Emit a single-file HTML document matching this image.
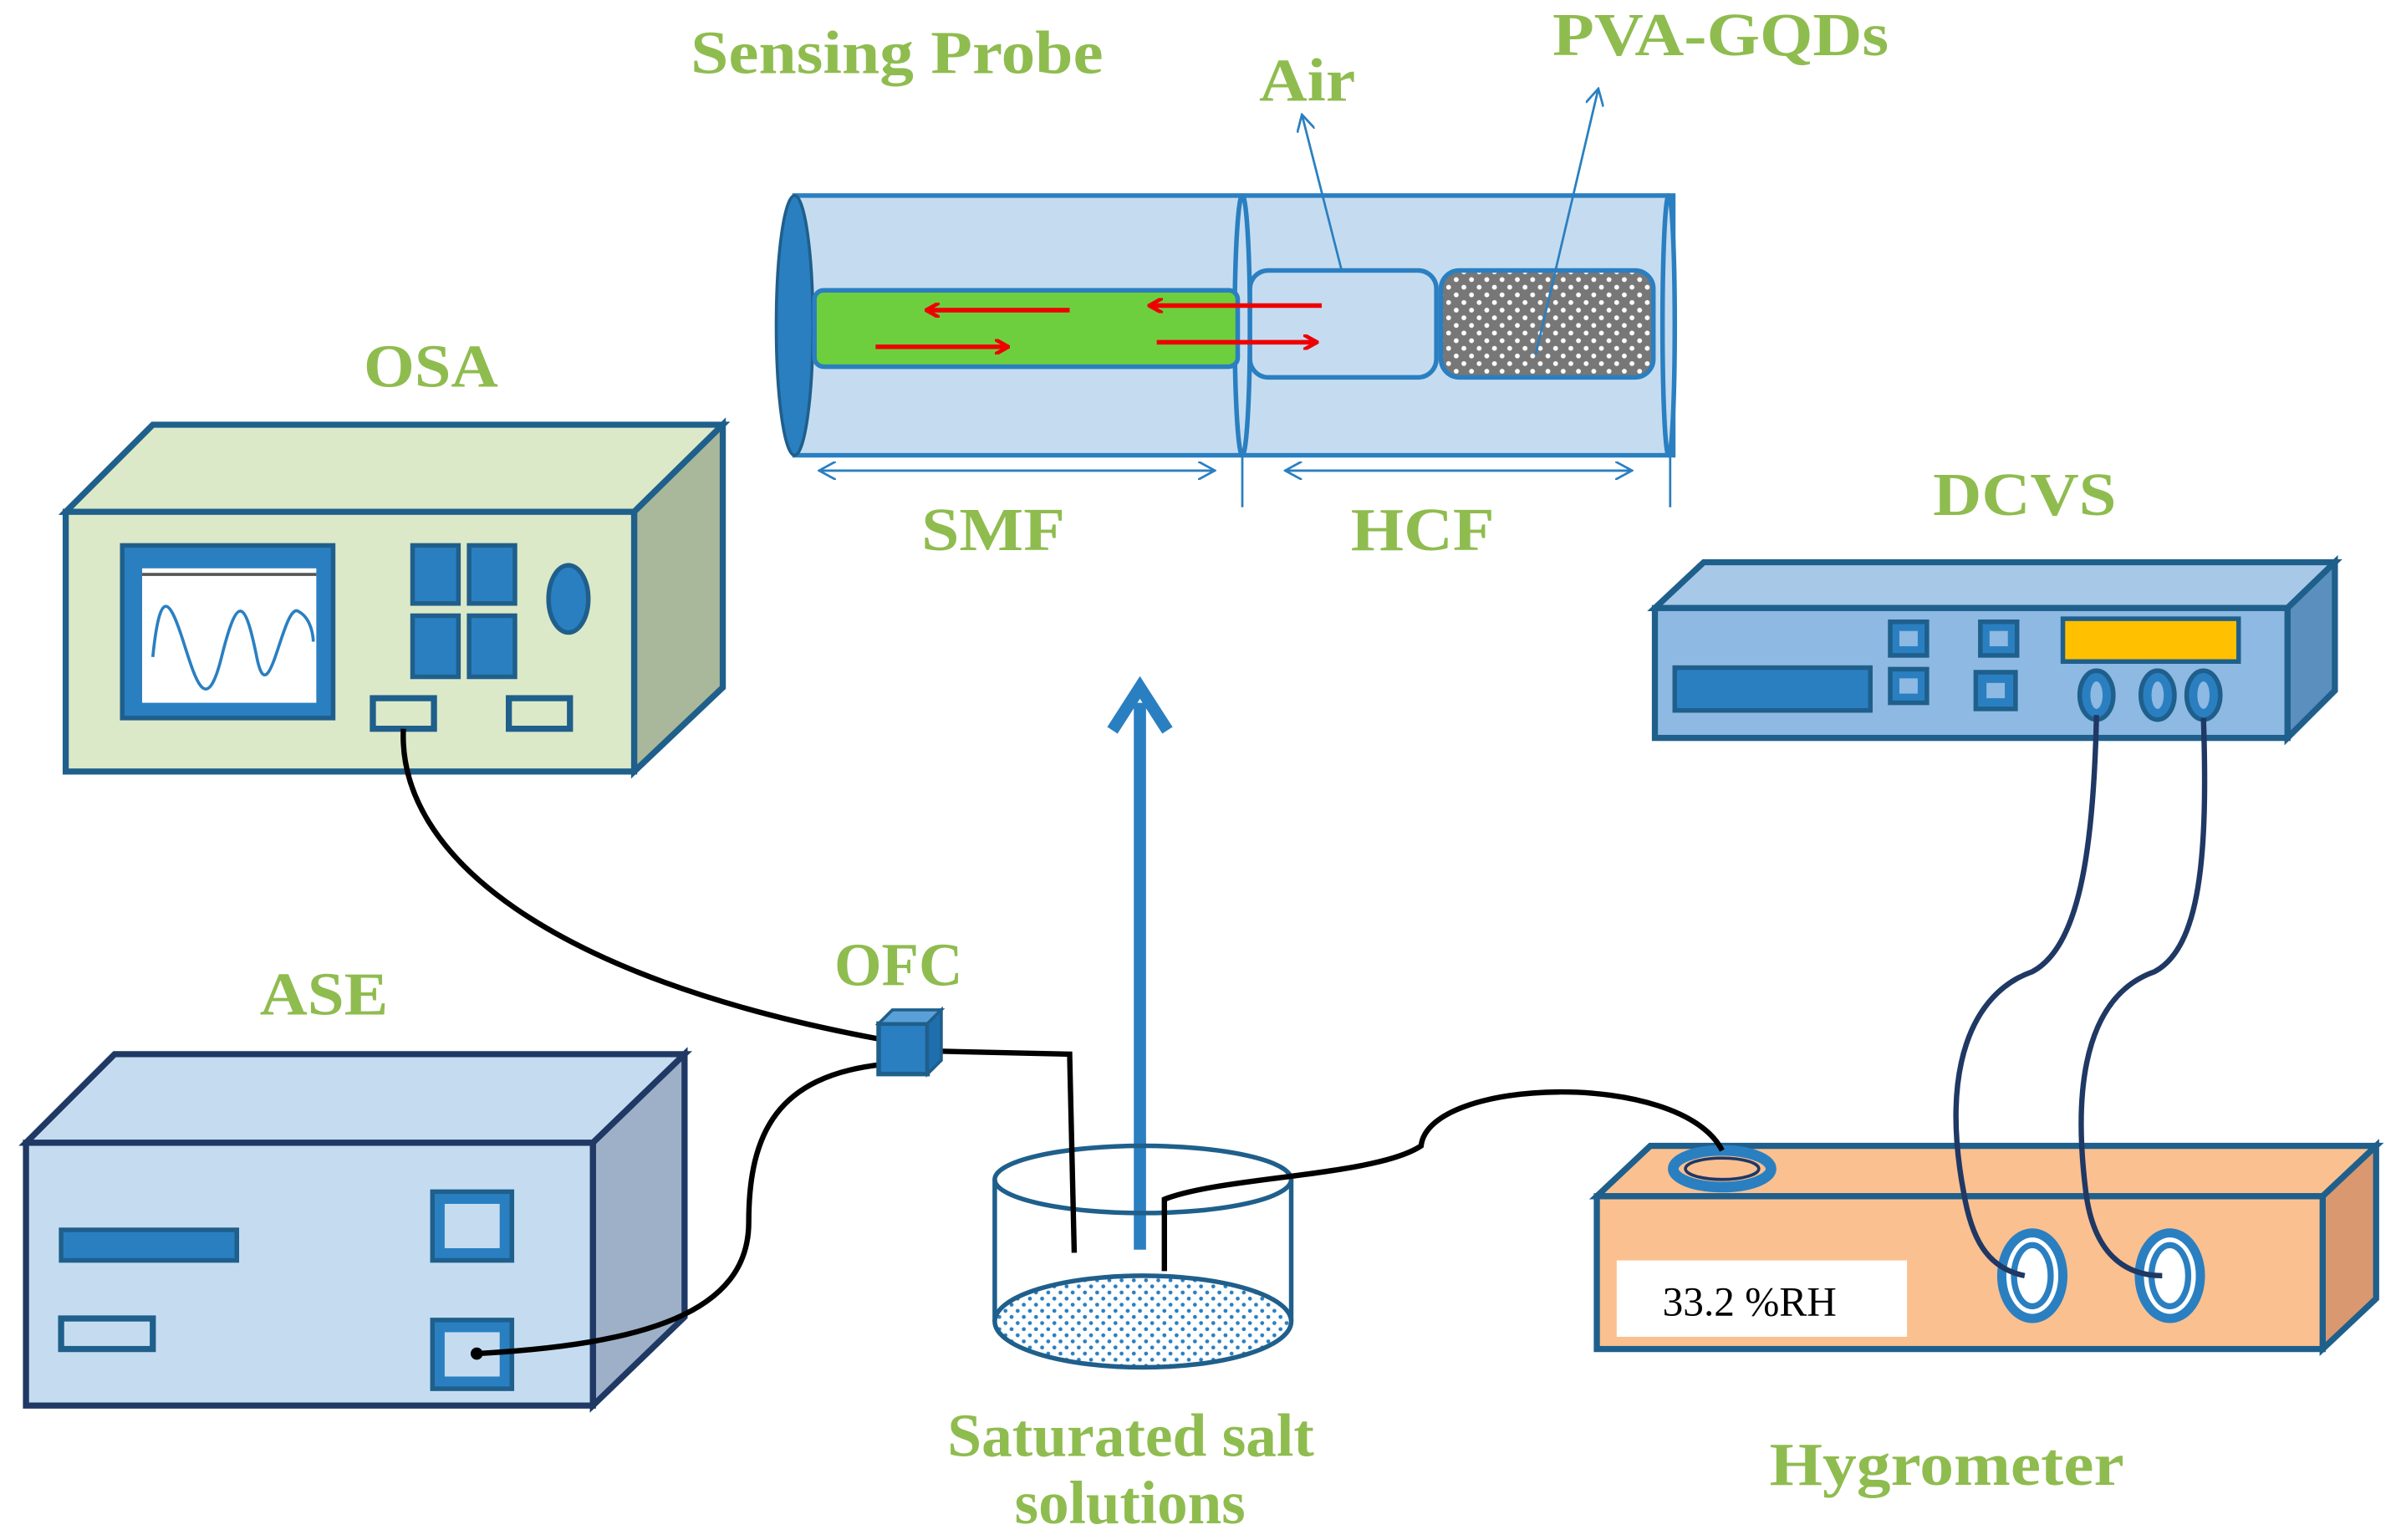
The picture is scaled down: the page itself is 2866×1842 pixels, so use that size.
<!DOCTYPE html>
<html><head><meta charset="utf-8"><style>
html,body{margin:0;padding:0;background:#fff;width:2866px;height:1842px;overflow:hidden}
svg{display:block}
.g{font-family:"Liberation Serif",serif;font-weight:bold;fill:#8fbc4f;font-size:40px}
</style></head><body>
<svg width="2866" height="1842" viewBox="0 0 1568 1008" preserveAspectRatio="none" xmlns="http://www.w3.org/2000/svg">
<defs>
<pattern id="dots" width="10" height="10" patternUnits="userSpaceOnUse"><rect width="10" height="10" fill="#777"/><circle cx="3" cy="3" r="1.6" fill="#fff"/><circle cx="8" cy="8" r="1.6" fill="#fff"/></pattern>
<pattern id="sd" width="8" height="8" patternUnits="userSpaceOnUse"><rect width="8" height="8" fill="#fff"/><circle cx="2" cy="2" r="1.3" fill="#2a7fc1"/><circle cx="6" cy="6" r="1.3" fill="#2a7fc1"/></pattern>
<marker id="ar" markerWidth="10" markerHeight="10" refX="9" refY="5" orient="auto" markerUnits="userSpaceOnUse"><path d="M0,0 L9,5 L0,10" fill="none" stroke="#e00" stroke-width="2.5"/></marker>
<marker id="ab" markerWidth="12" markerHeight="12" refX="11" refY="6" orient="auto" markerUnits="userSpaceOnUse"><path d="M0,0 L11,6 L0,12" fill="none" stroke="#2a7fc1" stroke-width="1.5"/></marker>
</defs>

<text class="g" x="452" y="48" textLength="270" lengthAdjust="spacingAndGlyphs">Sensing Probe</text>
<text class="g" x="824" y="66" textLength="63" lengthAdjust="spacingAndGlyphs">Air</text>
<text class="g" x="1016" y="36" textLength="220" lengthAdjust="spacingAndGlyphs">PVA-GQDs</text>
<text class="g" x="238" y="253" textLength="88" lengthAdjust="spacingAndGlyphs">OSA</text>
<text class="g" x="603" y="360" textLength="94" lengthAdjust="spacingAndGlyphs">SMF</text>
<text class="g" x="884" y="360" textLength="94" lengthAdjust="spacingAndGlyphs">HCF</text>
<text class="g" x="1265" y="337" textLength="120" lengthAdjust="spacingAndGlyphs">DCVS</text>
<text class="g" x="546" y="645" textLength="84" lengthAdjust="spacingAndGlyphs">OFC</text>
<text class="g" x="170" y="664" textLength="84" lengthAdjust="spacingAndGlyphs">ASE</text>
<text class="g" x="620" y="953" textLength="240" lengthAdjust="spacingAndGlyphs">Saturated salt</text>
<text class="g" x="664" y="997" textLength="151" lengthAdjust="spacingAndGlyphs">solutions</text>
<text class="g" x="1158" y="972" textLength="232" lengthAdjust="spacingAndGlyphs">Hygrometer</text>

<rect x="520" y="128" width="575" height="170" fill="#c5dcf0" stroke="#2a7fc1" stroke-width="3"/>
<ellipse cx="520" cy="213" rx="12" ry="85" fill="#2a7fc1" stroke="#1f5f8b" stroke-width="2"/>
<ellipse cx="813" cy="213" rx="5" ry="85" fill="#c5dcf0" stroke="#2a7fc1" stroke-width="3"/>
<ellipse cx="1092" cy="213" rx="4" ry="85" fill="#c5dcf0" stroke="#2a7fc1" stroke-width="3"/>
<rect x="533" y="190" width="277" height="50" rx="6" fill="#6ecf3e" stroke="#2a7fc1" stroke-width="3"/>
<rect x="818" y="177" width="122" height="70" rx="12" fill="#c5dcf0" stroke="#2a7fc1" stroke-width="3"/>
<rect x="943" y="177" width="139" height="70" rx="12" fill="url(#dots)" stroke="#2a7fc1" stroke-width="3"/>
<line x1="700" y1="203" x2="606" y2="203" stroke="#e00" stroke-width="3" marker-end="url(#ar)"/>
<line x1="573" y1="227" x2="660" y2="227" stroke="#e00" stroke-width="3" marker-end="url(#ar)"/>
<line x1="865" y1="200" x2="752" y2="200" stroke="#e00" stroke-width="3" marker-end="url(#ar)"/>
<line x1="757" y1="224" x2="862" y2="224" stroke="#e00" stroke-width="3" marker-end="url(#ar)"/>
<line x1="878" y1="177" x2="852" y2="75" stroke="#2a7fc1" stroke-width="1.5" marker-end="url(#ab)"/>
<line x1="1005" y1="232" x2="1046" y2="58" stroke="#2a7fc1" stroke-width="1.5" marker-end="url(#ab)"/>
<line x1="536" y1="308" x2="795" y2="308" stroke="#2a7fc1" stroke-width="1.5" marker-end="url(#ab)"/>
<line x1="795" y1="308" x2="536" y2="308" stroke="#2a7fc1" stroke-width="1.5" marker-end="url(#ab)"/>
<line x1="841" y1="308" x2="1068" y2="308" stroke="#2a7fc1" stroke-width="1.5" marker-end="url(#ab)"/>
<line x1="1068" y1="308" x2="841" y2="308" stroke="#2a7fc1" stroke-width="1.5" marker-end="url(#ab)"/>
<line x1="813" y1="298" x2="813" y2="332" stroke="#2a7fc1" stroke-width="1.5"/>
<line x1="1093" y1="298" x2="1093" y2="332" stroke="#2a7fc1" stroke-width="1.5"/>

<line x1="746" y1="818" x2="746" y2="460" stroke="#2a7fc1" stroke-width="8"/>
<path d="M728,478 L746,450 L764,478" fill="none" stroke="#2a7fc1" stroke-width="8"/>

<polygon points="43,335 100,278 473,278 415,335" fill="#dce9c8" stroke="#1f5f8b" stroke-width="4"/>
<polygon points="415,335 473,278 473,450 415,505" fill="#a9b89a" stroke="#1f5f8b" stroke-width="4"/>
<rect x="43" y="335" width="372" height="170" fill="#dce9c8" stroke="#1f5f8b" stroke-width="4"/>
<rect x="80" y="357" width="138" height="113" fill="#2a7fc1" stroke="#1f5f8b" stroke-width="3"/>
<rect x="93" y="372" width="114" height="88" fill="#fff"/>
<line x1="93" y1="376" x2="207" y2="376" stroke="#555" stroke-width="2"/>
<path d="M100,430 C105,380 112,395 120,420 S135,470 145,430 S160,390 168,430 S185,395 195,400 S205,420 205,420" fill="none" stroke="#2a7fc1" stroke-width="2"/>
<rect x="270" y="357" width="30" height="38" fill="#2a7fc1" stroke="#1f5f8b" stroke-width="3"/>
<rect x="307" y="357" width="30" height="38" fill="#2a7fc1" stroke="#1f5f8b" stroke-width="3"/>
<rect x="270" y="403" width="30" height="40" fill="#2a7fc1" stroke="#1f5f8b" stroke-width="3"/>
<rect x="307" y="403" width="30" height="40" fill="#2a7fc1" stroke="#1f5f8b" stroke-width="3"/>
<ellipse cx="372" cy="392" rx="13" ry="22" fill="#2a7fc1" stroke="#1f5f8b" stroke-width="3"/>
<rect x="244" y="457" width="40" height="20" fill="#dce9c8" stroke="#1f5f8b" stroke-width="4"/>
<rect x="333" y="457" width="40" height="20" fill="#dce9c8" stroke="#1f5f8b" stroke-width="4"/>

<polygon points="17,748 75,690 448,690 388,748" fill="#c5dcf0" stroke="#1f3864" stroke-width="4"/>
<polygon points="388,748 448,690 448,862 388,920" fill="#9db0c8" stroke="#1f3864" stroke-width="4"/>
<rect x="17" y="748" width="371" height="172" fill="#c5dcf0" stroke="#1f3864" stroke-width="4"/>
<rect x="40" y="805" width="115" height="20" fill="#2a7fc1" stroke="#1f5f8b" stroke-width="3"/>
<rect x="40" y="863" width="60" height="20" fill="#c5dcf0" stroke="#1f5f8b" stroke-width="4"/>
<rect x="283" y="780" width="52" height="45" fill="#2a7fc1" stroke="#1f5f8b" stroke-width="3"/>
<rect x="291" y="788" width="36" height="29" fill="#c5dcf0"/>
<rect x="283" y="864" width="52" height="45" fill="#2a7fc1" stroke="#1f5f8b" stroke-width="3"/>
<rect x="291" y="872" width="36" height="29" fill="#c5dcf0"/>

<polygon points="1083,398 1115,368 1528,368 1497,398" fill="#a8c8e8" stroke="#1f5f8b" stroke-width="4"/>
<polygon points="1497,398 1528,368 1528,452 1497,483" fill="#5b8fbe" stroke="#1f5f8b" stroke-width="4"/>
<rect x="1083" y="398" width="414" height="85" fill="#8db9e2" stroke="#1f5f8b" stroke-width="4"/>
<rect x="1350" y="405" width="115" height="28" fill="#ffc000" stroke="#1f5f8b" stroke-width="3"/>
<rect x="1096" y="437" width="128" height="28" fill="#2a7fc1" stroke="#1f5f8b" stroke-width="3"/>
<rect x="1237" y="407" width="24" height="22" fill="#2a7fc1" stroke="#1f5f8b" stroke-width="3"/><rect x="1243" y="413" width="12" height="10" fill="#8db9e2"/>
<rect x="1237" y="438" width="24" height="22" fill="#2a7fc1" stroke="#1f5f8b" stroke-width="3"/><rect x="1243" y="444" width="12" height="10" fill="#8db9e2"/>
<rect x="1296" y="407" width="24" height="22" fill="#2a7fc1" stroke="#1f5f8b" stroke-width="3"/><rect x="1302" y="413" width="12" height="10" fill="#8db9e2"/>
<rect x="1293" y="440" width="26" height="24" fill="#2a7fc1" stroke="#1f5f8b" stroke-width="3"/><rect x="1300" y="447" width="12" height="10" fill="#8db9e2"/>
<ellipse cx="1372" cy="455" rx="11" ry="16" fill="#2a7fc1" stroke="#1f5f8b" stroke-width="3"/><ellipse cx="1372" cy="455" rx="4" ry="9" fill="#8db9e2"/>
<ellipse cx="1412" cy="455" rx="11" ry="16" fill="#2a7fc1" stroke="#1f5f8b" stroke-width="3"/><ellipse cx="1412" cy="455" rx="4" ry="9" fill="#8db9e2"/>
<ellipse cx="1442" cy="455" rx="11" ry="16" fill="#2a7fc1" stroke="#1f5f8b" stroke-width="3"/><ellipse cx="1442" cy="455" rx="4" ry="9" fill="#8db9e2"/>

<polygon points="1045,783 1080,750 1555,750 1520,783" fill="#fac090" stroke="#1f5f8b" stroke-width="4"/>
<polygon points="1520,783 1555,750 1555,850 1520,883" fill="#d99870" stroke="#1f5f8b" stroke-width="4"/>
<rect x="1045" y="783" width="475" height="100" fill="#fac090" stroke="#1f5f8b" stroke-width="4"/>
<rect x="1058" y="825" width="190" height="50" fill="#fff"/>
<text x="1088" y="861" font-family="Liberation Serif,serif" font-size="27" fill="#000">33.2 %RH</text>
<ellipse cx="1330" cy="835" rx="20" ry="28" fill="#fff" stroke="#2a7fc1" stroke-width="6"/><ellipse cx="1330" cy="835" rx="12" ry="20" fill="#fff" stroke="#2a7fc1" stroke-width="4"/>
<ellipse cx="1420" cy="835" rx="20" ry="28" fill="#fff" stroke="#2a7fc1" stroke-width="6"/><ellipse cx="1420" cy="835" rx="12" ry="20" fill="#fff" stroke="#2a7fc1" stroke-width="4"/>
<ellipse cx="1127" cy="765" rx="32" ry="12" fill="#fac090" stroke="#2a7fc1" stroke-width="7"/><ellipse cx="1127" cy="765" rx="24" ry="7" fill="none" stroke="#1f3864" stroke-width="2"/>

<path d="M651,772 L651,865 M845,772 L845,865" stroke="#1f5f8b" stroke-width="3"/>
<ellipse cx="748" cy="865" rx="97" ry="30" fill="url(#sd)" stroke="#1f5f8b" stroke-width="3"/>
<ellipse cx="748" cy="772" rx="97" ry="22" fill="none" stroke="#1f5f8b" stroke-width="3"/>

<g fill="none" stroke="#000" stroke-width="3.5">
<path d="M264,477 C260,560 360,640 575,680"/>
<path d="M575,697 C510,705 490,740 490,800 C490,860 420,880 312,886"/>
<path d="M612,688 L700,690 L703,820"/>
<path d="M762,832 L762,785 C800,770 900,770 930,750 C935,705 1100,700 1127,753"/>
</g>
<rect x="575" y="670" width="32" height="33" fill="#2a7fc1" stroke="#1f5f8b" stroke-width="3"/>
<polygon points="575,670 584,661 616,661 607,670" fill="#5aa0d8" stroke="#1f5f8b" stroke-width="2"/>
<polygon points="607,670 616,661 616,694 607,703" fill="#1f6fae" stroke="#1f5f8b" stroke-width="2"/>
<circle cx="312" cy="886" r="4" fill="#000"/>
<g fill="none" stroke="#1f3864" stroke-width="3.5">
<path d="M1372,468 C1370,560 1360,620 1330,636 C1290,650 1270,700 1285,780 C1290,810 1300,830 1325,835"/>
<path d="M1442,470 C1445,560 1440,620 1410,636 C1370,650 1355,700 1365,780 C1370,820 1390,835 1415,835"/>
</g>
</svg>
</body></html>
